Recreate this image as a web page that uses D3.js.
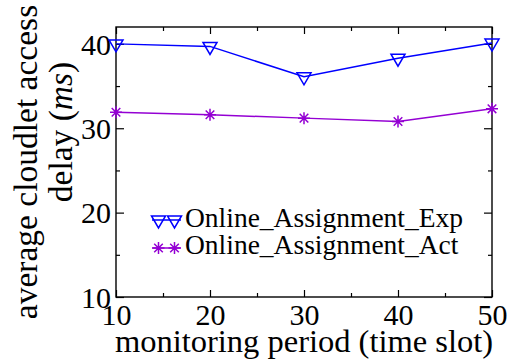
<!DOCTYPE html>
<html><head><meta charset="utf-8">
<script src="https://cdn.jsdelivr.net/npm/d3@7"></script>
<style>body{margin:0;background:#fff}svg{display:block}</style>
</head><body><svg id="c" width="522" height="360"></svg>
<script>
const periods = [10, 20, 30, 40, 50];
const expDelay = [40.0, 39.7, 36.1, 38.3, 40.1];
const actDelay = [31.9, 31.6, 31.2, 30.8, 32.3];
const seriesNames = ["Online_Assignment_Exp", "Online_Assignment_Act"];
const xTicks = [10, 20, 30, 40, 50];
const yTicks = [10, 20, 30, 40];
const xMinor = [15, 25, 35, 45];
const yMinor = [15, 25, 35];

const FONT = "Times New Roman";
const svg = d3.select("#c");
const L = 116, R = 492, T = 27, B = 297;
const x = d3.scaleLinear().domain([10, 50]).range([L, R]);
const y = d3.scaleLinear().domain([10, 42]).range([B, T]);
const blue = "#0000ff", violet = "#9400d3";

function styleAxis(g){ g.attr("font-family", FONT); g.select(".domain").remove(); g.selectAll("line").attr("stroke","#000").attr("stroke-width",1.2); }
svg.append("g").attr("transform",`translate(0,${B})`)
  .call(d3.axisBottom(x).tickValues(xTicks).tickSize(-7).tickPadding(14).tickFormat(d3.format("d")))
  .call(styleAxis).selectAll("text").attr("font-family",FONT).attr("font-size",30).attr("fill","#000").attr("dy","0.71em").attr("y",7);
svg.append("g").attr("transform",`translate(0,${B})`)
  .call(d3.axisBottom(x).tickValues(xMinor).tickSize(-4).tickFormat("")).call(styleAxis);
svg.append("g").attr("transform",`translate(0,${T})`)
  .call(d3.axisTop(x).tickValues(xTicks).tickSize(-7).tickFormat("")).call(styleAxis);
svg.append("g").attr("transform",`translate(0,${T})`)
  .call(d3.axisTop(x).tickValues(xMinor).tickSize(-4).tickFormat("")).call(styleAxis);
svg.append("g").attr("transform",`translate(${L},0)`)
  .call(d3.axisLeft(y).tickValues(yTicks).tickSize(-8).tickPadding(14).tickFormat(d3.format("d")))
  .call(styleAxis).selectAll("text").attr("font-family",FONT).attr("font-size",30).attr("fill","#000").attr("x",-5).attr("dy","0.34em");
svg.append("g").attr("transform",`translate(${L},0)`)
  .call(d3.axisLeft(y).tickValues(yMinor).tickSize(-4).tickFormat("")).call(styleAxis);
svg.append("g").attr("transform",`translate(${R},0)`)
  .call(d3.axisRight(y).tickValues(yTicks).tickSize(-8).tickFormat("")).call(styleAxis);
svg.append("g").attr("transform",`translate(${R},0)`)
  .call(d3.axisRight(y).tickValues(yMinor).tickSize(-4).tickFormat("")).call(styleAxis);

svg.append("rect").attr("x",L).attr("y",T).attr("width",R-L).attr("height",B-T)
  .attr("fill","none").attr("stroke","#000").attr("stroke-width",1.4);

function triPath(cx, cy){ return `M${cx-7},${cy-4}L${cx+7},${cy-4}L${cx},${cy+8}Z`; }
function starPath(cx, cy){ const r=6, d=4.3; return `M${cx-r},${cy}L${cx+r},${cy}M${cx},${cy-r}L${cx},${cy+r}M${cx-d},${cy-d}L${cx+d},${cy+d}M${cx-d},${cy+d}L${cx+d},${cy-d}`; }

const line = d3.line().x((d,i)=>x(periods[i])).y(d=>y(d));
svg.append("path").datum(expDelay).attr("d",line).attr("fill","none").attr("stroke",blue).attr("stroke-width",1.5);
svg.append("path").datum(actDelay).attr("d",line).attr("fill","none").attr("stroke",violet).attr("stroke-width",1.5);
svg.selectAll(".tri").data(expDelay).enter().append("path")
  .attr("d",(d,i)=>triPath(x(periods[i]),y(d))).attr("fill","none").attr("stroke",blue).attr("stroke-width",1.5);
svg.selectAll(".star").data(actDelay).enter().append("path")
  .attr("d",(d,i)=>starPath(x(periods[i]),y(d))).attr("fill","none").attr("stroke",violet).attr("stroke-width",1.5);

const lg = [{name:seriesNames[0], color:blue, yy:220, mk:triPath, base:227},
            {name:seriesNames[1], color:violet, yy:248, mk:starPath, base:254}];
lg.forEach(e=>{
  svg.append("line").attr("x1",152).attr("x2",181).attr("y1",e.yy).attr("y2",e.yy).attr("stroke",e.color).attr("stroke-width",1.5);
  [158.5,174.5].forEach(cx=>svg.append("path").attr("d",e.mk(cx,e.yy)).attr("fill","none").attr("stroke",e.color).attr("stroke-width",1.5));
  svg.append("text").attr("x",185).attr("y",e.base).attr("font-family",FONT).attr("font-size",27.5).text(e.name);
});

svg.append("text").attr("x",(L+R)/2).attr("y",352).attr("text-anchor","middle").attr("font-family",FONT).attr("font-size",32.5)
  .text("monitoring period (time slot)");
svg.append("text").attr("transform","translate(37,162) rotate(-90)").attr("text-anchor","middle").attr("font-family",FONT).attr("font-size",33.5)
  .text("average cloudlet access");
const yl2 = svg.append("text").attr("transform","translate(72,132) rotate(-90)").attr("text-anchor","middle").attr("font-family",FONT).attr("font-size",33.5);
yl2.append("tspan").text("delay (");
yl2.append("tspan").attr("font-style","italic").text("ms");
yl2.append("tspan").text(")");
</script></body></html>
